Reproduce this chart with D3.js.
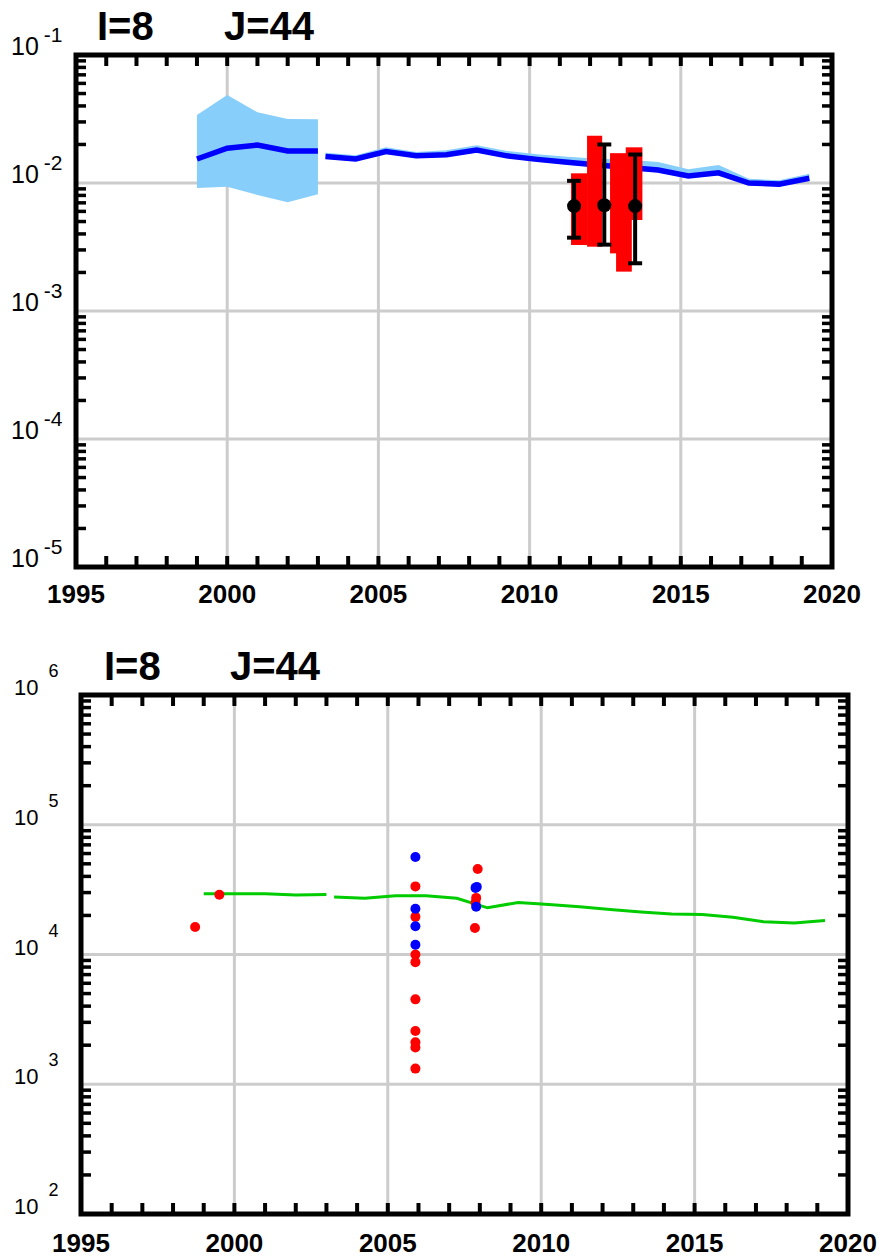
<!DOCTYPE html>
<html><head><meta charset="utf-8">
<script src="https://cdn.jsdelivr.net/npm/d3@7"></script>
<style>body{margin:0;background:#fff} svg{display:block;font-family:"Liberation Sans",Arial,sans-serif}</style>
</head><body>
<svg id="c" width="882" height="1258"></svg>
<script>
// ---------- shared ----------
const titleI = "I=8", titleJ = "J=44";
const yearTicks = [1995, 2000, 2005, 2010, 2015, 2020];
const gridYears = [2000, 2005, 2010, 2015];

// ---------- top panel data ----------
const topDecades = [-5, -4, -3, -2, -1];
const bandYears1 = [1999, 2000, 2001, 2002, 2003];
const bandMid1   = [0.0154, 0.0187, 0.0198, 0.0178, 0.0178];
const bandHigh1  = [0.034, 0.0487, 0.0357, 0.0316, 0.0315];
const bandLow1   = [0.00914, 0.00935, 0.00806, 0.00708, 0.00817];

const lineYears2 = [2003.25, 2004.25, 2005.25, 2006.25, 2007.25, 2008.25, 2009.25, 2010.25, 2011.25,
                    2012.25, 2013.25, 2014.25, 2015.25, 2016.25, 2017.25, 2018.25, 2019.25];
const lineMid2  = [0.0161, 0.0154, 0.0176, 0.0163, 0.0166, 0.0181, 0.0163, 0.0153, 0.0145,
                   0.0138, 0.0132, 0.01265, 0.01135, 0.0120, 0.0100, 0.0098, 0.0109];
const lineHigh2 = [0.0172, 0.0165, 0.0190, 0.0175, 0.0180, 0.0197, 0.0178, 0.0168, 0.0160,
                   0.0155, 0.0152, 0.0146, 0.0128, 0.0138, 0.0108, 0.0105, 0.0118];
const lineLow2  = [0.0155, 0.0148, 0.0169, 0.0157, 0.0160, 0.0174, 0.0157, 0.0147, 0.0139,
                   0.0133, 0.0127, 0.0121, 0.0109, 0.0115, 0.0096, 0.0094, 0.0105];

const redStart = [2011.37, 2011.90, 2012.66, 2012.86, 2013.18];
const redEnd   = [2011.91, 2012.40, 2013.21, 2013.38, 2013.73];
const redHigh  = [0.0119, 0.0234, 0.0171, 0.0151, 0.0190];
const redLow   = [0.00328, 0.00318, 0.00282, 0.00203, 0.00514];

const errYears = [2011.47, 2012.47, 2013.49];
const errMid   = [0.0066, 0.0067, 0.0066];
const errLow   = [0.00374, 0.0033, 0.00236];
const errHigh  = [0.0104, 0.0200, 0.0167];

// ---------- bottom panel data ----------
const botDecades = [2, 3, 4, 5, 6];
const greenYears1 = [1999, 2000, 2001, 2002, 2003];
const greenVals1  = [29400, 29400, 29400, 28800, 29000];
const greenYears2 = [2003.25, 2004.25, 2005.25, 2006.25, 2007.25, 2008.25, 2009.25, 2010.25, 2011.25,
                     2012.25, 2013.25, 2014.25, 2015.25, 2016.25, 2017.25, 2018.25, 2019.25];
const greenVals2  = [27800, 27100, 28400, 28400, 27100, 22900, 25200, 24300, 23300,
                     22200, 21300, 20500, 20300, 19400, 17900, 17500, 18300];

const redPtYears = [1998.72, 1999.51, 2005.9, 2005.9, 2005.9, 2005.9, 2005.9, 2005.9, 2005.9, 2005.9, 2005.9,
                    2007.93, 2007.88, 2007.86, 2007.84];
const redPtVals  = [16300, 28900, 33500, 19500, 10000, 8730, 4510, 2570, 2110, 1920, 1320,
                    45600, 27300, 25100, 16000];
const bluePtYears = [2005.9, 2005.9, 2005.9, 2005.9, 2007.86, 2007.9, 2007.88];
const bluePtVals  = [56500, 22500, 16500, 11900, 32600, 33200, 23300];

// ---------- drawing ----------
const svg = d3.select("#c");

function panel(cfg) {
  const x = d3.scaleLinear().domain([1995, 2020]).range([cfg.left, cfg.right]);
  const y = d3.scaleLog().domain([Math.pow(10, cfg.decades[0]), Math.pow(10, cfg.decades[cfg.decades.length - 1])])
              .range([cfg.bottom, cfg.top]);
  const g = svg.append("g");
  const grid = g.append("g").attr("stroke", "#cccccc").attr("stroke-width", 3);
  gridYears.forEach(yr => grid.append("line").attr("x1", x(yr)).attr("x2", x(yr)).attr("y1", cfg.top).attr("y2", cfg.bottom));
  cfg.decades.slice(1, -1).forEach(d => {
    const v = Math.pow(10, d);
    grid.append("line").attr("x1", cfg.left).attr("x2", cfg.right).attr("y1", y(v)).attr("y2", y(v));
  });
  const data = g.append("g");
  cfg.draw(data, x, y);
  // frame
  const ax = g.append("g").attr("stroke", "#000");
  for (let yr = 1996; yr < 2020; yr++) {
    ax.append("line").attr("x1", x(yr)).attr("x2", x(yr)).attr("y1", cfg.bottom).attr("y2", cfg.bottom - 11).attr("stroke-width", 4);
    ax.append("line").attr("x1", x(yr)).attr("x2", x(yr)).attr("y1", cfg.top).attr("y2", cfg.top + 11).attr("stroke-width", 4);
  }
  for (let i = 0; i < cfg.decades.length - 1; i++) {
    for (let k = 2; k <= 9; k++) {
      const v = k * Math.pow(10, cfg.decades[i]);
      ax.append("line").attr("x1", cfg.left).attr("x2", cfg.left + 10).attr("y1", y(v)).attr("y2", y(v)).attr("stroke-width", 3.5);
      ax.append("line").attr("x1", cfg.right).attr("x2", cfg.right - 10).attr("y1", y(v)).attr("y2", y(v)).attr("stroke-width", 3.5);
    }
  }
  ax.append("rect").attr("x", cfg.left).attr("y", cfg.top).attr("width", cfg.right - cfg.left)
    .attr("height", cfg.bottom - cfg.top).attr("fill", "none").attr("stroke-width", 5);
  // year labels
  yearTicks.forEach(yr => g.append("text").attr("x", x(yr)).attr("y", cfg.bottom + cfg.yearDy)
    .attr("text-anchor", "middle").attr("font-size", 26).attr("font-weight", "bold").attr("fill", "#000").text(yr));
  // y labels
  cfg.decades.forEach(d => {
    const t = g.append("text").attr("x", cfg.labX).attr("y", y(Math.pow(10, d)))
      .attr("font-size", cfg.labSize).attr("fill", "#000");
    t.append("tspan").text("10");
    t.append("tspan").attr("dx", cfg.supDx).attr("dy", -cfg.supRaise).attr("font-size", cfg.supSize).text(String(d));
  });
  // titles
  g.append("text").attr("x", cfg.titleX1).attr("y", cfg.titleY).attr("font-size", 40).attr("font-weight", "bold").text(titleI);
  g.append("text").attr("x", cfg.titleX2).attr("y", cfg.titleY).attr("font-size", 40).attr("font-weight", "bold").text(titleJ);
}

panel({
  left: 76, right: 832, top: 55, bottom: 567, decades: topDecades,
  yearDy: 36, labX: 11, labSize: 25, supDx: 5, supRaise: 13, supSize: 21,
  titleX1: 97, titleX2: 224, titleY: 40,
  draw(g, x, y) {
    const area = d3.area().x(d => x(d[0])).y0(d => y(d[1])).y1(d => y(d[2]));
    const line = d3.line().x(d => x(d[0])).y(d => y(d[1]));
    g.append("path").datum(bandYears1.map((yr, i) => [yr, bandLow1[i], bandHigh1[i]]))
      .attr("d", area).attr("fill", "#87cefa");
    g.append("path").datum(lineYears2.map((yr, i) => [yr, lineLow2[i], lineHigh2[i]]))
      .attr("d", area).attr("fill", "#87cefa");
    g.append("path").datum(bandYears1.map((yr, i) => [yr, bandMid1[i]]))
      .attr("d", line).attr("fill", "none").attr("stroke", "#0000ff").attr("stroke-width", 5.5);
    g.append("path").datum(lineYears2.map((yr, i) => [yr, lineMid2[i]]))
      .attr("d", line).attr("fill", "none").attr("stroke", "#0000ff").attr("stroke-width", 5.5);
    redStart.forEach((s, i) => g.append("rect").attr("x", x(s)).attr("width", x(redEnd[i]) - x(s))
      .attr("y", y(redHigh[i])).attr("height", y(redLow[i]) - y(redHigh[i])).attr("fill", "#ff0000"));
    errYears.forEach((yr, i) => {
      const cx = x(yr);
      g.append("line").attr("x1", cx).attr("x2", cx).attr("y1", y(errLow[i])).attr("y2", y(errHigh[i])).attr("stroke", "#000").attr("stroke-width", 4);
      [errLow[i], errHigh[i]].forEach(v => g.append("line").attr("x1", cx - 7).attr("x2", cx + 7)
        .attr("y1", y(v)).attr("y2", y(v)).attr("stroke", "#000").attr("stroke-width", 4));
      g.append("circle").attr("cx", cx).attr("cy", y(errMid[i])).attr("r", 7).attr("fill", "#000");
    });
  }
});

panel({
  left: 81, right: 848, top: 695, bottom: 1214, decades: botDecades,
  yearDy: 38, labX: 14, labSize: 22, supDx: 10, supRaise: 18, supSize: 18,
  titleX1: 104, titleX2: 230, titleY: 680,
  draw(g, x, y) {
    const line = d3.line().x(d => x(d[0])).y(d => y(d[1]));
    [[greenYears1, greenVals1], [greenYears2, greenVals2]].forEach(([ys, vs]) =>
      g.append("path").datum(ys.map((yr, i) => [yr, vs[i]])).attr("d", line)
        .attr("fill", "none").attr("stroke", "#00cc00").attr("stroke-width", 3));
    redPtYears.forEach((yr, i) => g.append("circle").attr("cx", x(yr)).attr("cy", y(redPtVals[i])).attr("r", 5).attr("fill", "#ff0000"));
    bluePtYears.forEach((yr, i) => g.append("circle").attr("cx", x(yr)).attr("cy", y(bluePtVals[i])).attr("r", 5).attr("fill", "#0000ff"));
  }
});
</script>
</body></html>
